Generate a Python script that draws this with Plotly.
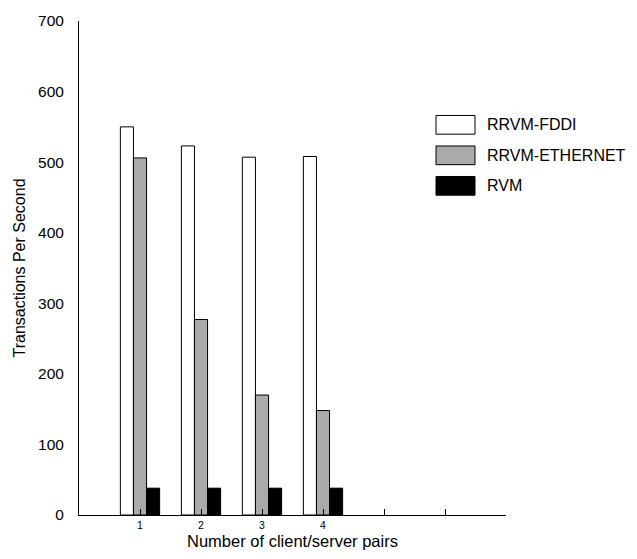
import plotly.graph_objects as go

# ---- data ----
categories = [1, 2, 3, 4]
series_names = ["RRVM-FDDI", "RRVM-ETHERNET", "RVM"]
fddi = [550, 523, 507, 508]
ethernet = [506, 277, 170, 148]
rvm = [38, 38, 38, 38]
tick_values = [1, 2, 3, 4, 5, 6, 7]
tick_labels = ["1", "2", "3", "4", "", "", ""]
y_ticks = [0, 100, 200, 300, 400, 500, 600, 700]

colors = ["#ffffff", "#aaaaaa", "#000000"]
series = [fddi, ethernet, rvm]

W, H = 637, 559
L, R, T, B = 79, 131, 14, 43
FONT = "Liberation Sans, Arial, sans-serif"

fig = go.Figure()
for name, vals, col in zip(series_names, series, colors):
    fig.add_trace(go.Bar(
        x=categories, y=vals, name=name,
        marker=dict(color=col, line=dict(color="#000000", width=1)),
        showlegend=False,
    ))

# custom legend (large swatches like the reference)
pw = W - L - R
ph = H - T - B
def px_x(x):
    return (x - L) / pw
def px_y(y):
    return (H - B - y) / ph

row_tops = [110, 141, 172]
for name, col, top in zip(series_names, colors, row_tops):
    fig.add_shape(type="rect", xref="paper", yref="paper",
                  x0=px_x(436), x1=px_x(475), y0=px_y(top), y1=px_y(top + 19),
                  fillcolor=col, line=dict(color="#000000", width=1))
    fig.add_annotation(xref="paper", yref="paper", x=px_x(485), y=px_y(top + 9.5),
                       text=name, showarrow=False, xanchor="left", yanchor="middle",
                       font=dict(family=FONT, size=16, color="#000000"))

fig.update_layout(
    width=W, height=H,
    margin=dict(l=L, r=R, t=T, b=B, pad=0),
    paper_bgcolor="#ffffff", plot_bgcolor="#ffffff",
    barmode="group", bargap=0.356, bargroupgap=0,
    font=dict(family=FONT, color="#000000"),
    showlegend=False,
)
fig.update_xaxes(
    range=[0, 7], tickmode="array", tickvals=tick_values, ticktext=tick_labels,
    ticks="inside", ticklen=6, tickcolor="#000000", tickwidth=1,
    showline=True, linecolor="#000000", linewidth=1,
    showgrid=False, zeroline=False,
    tickfont=dict(family=FONT, size=10.5),
    title=dict(text="Number of client/server pairs", font=dict(family=FONT, size=16.5), standoff=5),
)
fig.update_yaxes(
    range=[0, 700], tickmode="array", tickvals=y_ticks,
    ticks="", showline=True, linecolor="#000000", linewidth=1,
    showgrid=False, zeroline=False,
    tickfont=dict(family=FONT, size=15.5), ticklabelstandoff=11,
    title=dict(text="Transactions Per Second", font=dict(family=FONT, size=16), standoff=8),
)

fig.write_html("out.html")
